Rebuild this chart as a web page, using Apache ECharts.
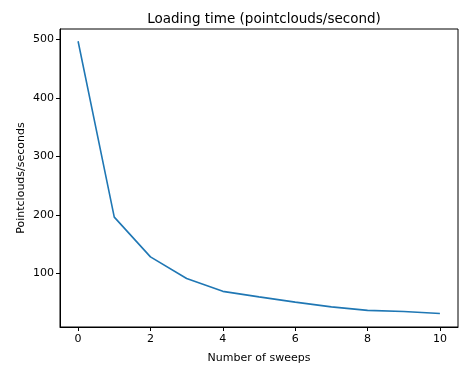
<!DOCTYPE html>
<html><head><meta charset="utf-8">
<script src="https://cdn.jsdelivr.net/npm/echarts@6/dist/echarts.min.js"></script>
<style>html,body{margin:0;padding:0;background:#fff}#c{width:459px;height:365px}</style>
</head><body><div id="c"></div>
<script>
const sweeps = [0,1,2,3,4,5,6,7,8,9,10];
const rate = [497,196,128,91,69,59.5,50.5,42.5,36.5,34.5,31];
const xTicks = [0,2,4,6,8,10];
const yTicks = [100,200,300,400,500];
const font = 'DejaVu Sans';
const chart = echarts.init(document.getElementById('c'), null, {renderer:'canvas'});
chart.setOption({
  animation:false,
  title:{text:'Loading time (pointclouds/second)', left:259, top:7, textAlign:'center',
    textStyle:{fontFamily:font, fontSize:13.5, fontWeight:'normal', color:'#000'}},
  grid:{left:60, right:1, top:29, bottom:38, containLabel:false, outerBoundsMode:'none',
    show:true, borderColor:'#000', borderWidth:1, backgroundColor:'transparent'},
  xAxis:{type:'value', min:-0.5, max:10.5,
    name:'Number of sweeps', nameLocation:'middle', nameGap:26,
    nameTextStyle:{fontFamily:font, fontSize:11, color:'#000'},
    splitLine:{show:false},
    axisLine:{show:true, onZero:false, lineStyle:{color:'#000', width:1}},
    axisTick:{show:true, length:4, customValues:xTicks, lineStyle:{color:'#000'}},
    axisLabel:{customValues:xTicks, fontFamily:font, fontSize:11, color:'#000', margin:7}},
  yAxis:{type:'value', min:8, max:518,
    name:'Pointclouds/seconds', nameLocation:'middle', nameGap:33, nameRotate:90, nameMoveOverlap:false,
    nameTextStyle:{fontFamily:font, fontSize:11, color:'#000'},
    splitLine:{show:false},
    axisLine:{show:true, onZero:false, lineStyle:{color:'#000', width:1}},
    axisTick:{show:true, length:4, customValues:yTicks, lineStyle:{color:'#000'}},
    axisLabel:{customValues:yTicks, fontFamily:font, fontSize:11, color:'#000', margin:6}},
  series:[{type:'line', data:sweeps.map((x,i)=>[x,rate[i]]), showSymbol:false,
    lineStyle:{color:'#1f77b4', width:1.6}, itemStyle:{color:'#1f77b4'}}]
});
</script></body></html>
